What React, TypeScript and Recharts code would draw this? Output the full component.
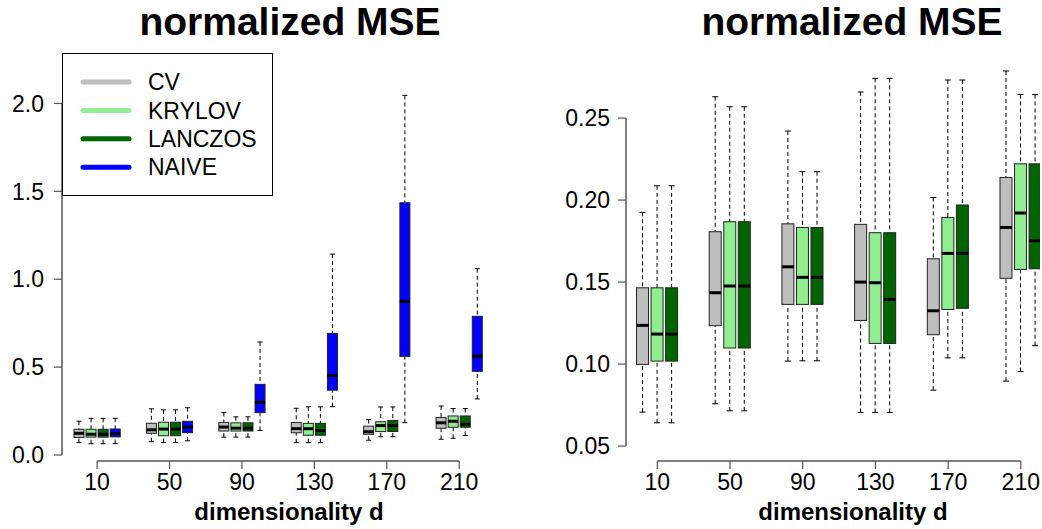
import React from 'react';
import { ComposedChart, Bar, XAxis, YAxis, ReferenceLine } from 'recharts';

const dims = ['10', '50', '90', '130', '170', '210'];

// [min, q1, median, q3, max] per dimensionality
const cvStats = [
  [0.0707, 0.0998, 0.1236, 0.1465, 0.1925],
  [0.0758, 0.1234, 0.1435, 0.1807, 0.263],
  [0.1018, 0.1364, 0.1593, 0.1855, 0.2421],
  [0.0705, 0.1266, 0.15, 0.1852, 0.2659],
  [0.0841, 0.1179, 0.1325, 0.1642, 0.2016],
  [0.0896, 0.1523, 0.1833, 0.2138, 0.2787],
];
const krylovStats = [
  [0.0642, 0.1018, 0.1183, 0.1465, 0.2087],
  [0.0715, 0.1098, 0.1476, 0.1868, 0.2569],
  [0.102, 0.1364, 0.1529, 0.1833, 0.2173],
  [0.0705, 0.1126, 0.1496, 0.1801, 0.2742],
  [0.1038, 0.1333, 0.1675, 0.1894, 0.2732],
  [0.0955, 0.1577, 0.1921, 0.2221, 0.2644],
];
const lanczosStats = [
  [0.0642, 0.1018, 0.1183, 0.1465, 0.2087],
  [0.0715, 0.1098, 0.1476, 0.1868, 0.2569],
  [0.102, 0.1364, 0.1529, 0.1833, 0.2173],
  [0.0705, 0.1126, 0.1394, 0.1801, 0.2742],
  [0.1038, 0.134, 0.1675, 0.197, 0.2732],
  [0.1112, 0.1581, 0.1752, 0.2221, 0.2644],
];
const naiveStats = [
  [0.065, 0.103, 0.121, 0.148, 0.209],
  [0.081, 0.127, 0.159, 0.192, 0.269],
  [0.14, 0.241, 0.3, 0.402, 0.643],
  [0.275, 0.369, 0.452, 0.692, 1.143],
  [0.184, 0.561, 0.874, 1.435, 2.046],
  [0.319, 0.476, 0.563, 0.789, 1.06],
];

const leftTicks = [0, 0.5, 1.0, 1.5, 2.0];
const rightTicks = [0.05, 0.1, 0.15, 0.2, 0.25];

const series = [
  { name: 'CV', color: '#BEBEBE', stats: cvStats },
  { name: 'KRYLOV', color: '#90EE90', stats: krylovStats },
  { name: 'LANCZOS', color: '#006400', stats: lanczosStats },
  { name: 'NAIVE', color: '#0000FF', stats: naiveStats },
];

const FONT = '"Liberation Sans", Arial, Helvetica, sans-serif';

// one row per box, slot position along the x axis
const buildRows = (list: typeof series, groupSlots: number) => {
  const rows: any[] = [];
  dims.forEach((_, g) => {
    list.forEach((s, i) => {
      const st = s.stats[g];
      rows.push({ pos: g * groupSlots + i, range: [st[0], st[4]], stats: st, color: s.color });
    });
  });
  return rows;
};

const leftRows = buildRows(series, 6);
const rightRows = buildRows(series.slice(0, 3), 5);

const BoxShape = (props: any) => {
  const { x, y, width, height, payload } = props;
  if (x == null || y == null) return null;
  const top = Math.min(y, y + height);
  const bottom = Math.max(y, y + height);
  const [lo, q1, med, q3, hi] = payload.stats;
  const toPx = (v: number) => bottom - ((v - lo) / (hi - lo)) * (bottom - top);
  const cx = x + width / 2;
  const staple = width / 4;
  return (
    <g>
      <line x1={cx} x2={cx} y1={toPx(hi)} y2={toPx(q3)} stroke="#000" strokeDasharray="4 3" />
      <line x1={cx} x2={cx} y1={toPx(lo)} y2={toPx(q1)} stroke="#000" strokeDasharray="4 3" />
      <line x1={cx - staple} x2={cx + staple} y1={toPx(hi)} y2={toPx(hi)} stroke="#000" />
      <line x1={cx - staple} x2={cx + staple} y1={toPx(lo)} y2={toPx(lo)} stroke="#000" />
      <rect x={cx - width / 2} y={toPx(q3)} width={width} height={toPx(q1) - toPx(q3)} fill={payload.color} stroke="#222" strokeWidth={1} />
      <line x1={cx - width / 2} x2={cx + width / 2} y1={toPx(med)} y2={toPx(med)} stroke="#000" strokeWidth={3} />
    </g>
  );
};

interface PanelProps {
  rows: any[];
  groupSlots: number;
  tickSlot: number;
  xDomain: [number, number];
  yDomain: [number, number];
  yTicks: number[];
  digits: number;
  marginLeft: number;
  marginRight: number;
  yWidth: number;
  tickMargin: number;
  barSize: number;
}

const Panel: React.FC<PanelProps> = (p) => {
  const xTicks = dims.map((_, g) => g * p.groupSlots + p.tickSlot);
  const axisColor = '#555';
  return (
    <ComposedChart
      width={521}
      height={529}
      data={p.rows}
      margin={{ top: 50, right: p.marginRight, left: p.marginLeft, bottom: 0 }}
    >
      <XAxis
        type="number"
        dataKey="pos"
        domain={p.xDomain}
        ticks={xTicks}
        interval={0}
        allowDataOverflow
        axisLine={false}
        tickLine={{ stroke: axisColor, strokeWidth: 1.2 }}
        tickSize={8}
        tickMargin={5}
        height={68}
        tick={{ fill: '#000', fontSize: 23, fontFamily: FONT }}
        tickFormatter={(v: number) => dims[Math.round((v - p.tickSlot) / p.groupSlots)]}
      />
      <YAxis
        type="number"
        domain={p.yDomain}
        ticks={p.yTicks}
        interval={0}
        allowDataOverflow
        axisLine={false}
        tickLine={{ stroke: axisColor, strokeWidth: 1.2 }}
        tickSize={8}
        tickMargin={p.tickMargin}
        width={p.yWidth}
        tick={{ fill: '#000', fontSize: 23, fontFamily: FONT }}
        tickFormatter={(v: number) => v.toFixed(p.digits)}
      />
      <ReferenceLine
        segment={[{ x: xTicks[0], y: p.yDomain[0] }, { x: xTicks[xTicks.length - 1], y: p.yDomain[0] }]}
        stroke={axisColor}
        strokeWidth={1.5}
        ifOverflow="visible"
      />
      <ReferenceLine
        segment={[{ x: p.xDomain[0], y: p.yTicks[0] }, { x: p.xDomain[0], y: p.yTicks[p.yTicks.length - 1] }]}
        stroke={axisColor}
        strokeWidth={1.5}
        ifOverflow="visible"
      />
      <Bar dataKey="range" barSize={p.barSize} shape={(sp: any) => <BoxShape {...sp} />} isAnimationActive={false} />
    </ComposedChart>
  );
};

const Legend = () => (
  <svg width={212} height={144} style={{ position: 'absolute', left: 62, top: 53 }}>
    <rect x={0.5} y={0.5} width={210} height={142} fill="#fff" stroke="#000" strokeWidth={1} />
    {series.map((s, i) => (
      <g key={s.name}>
        <line x1={21} x2={67} y1={29 + i * 28.4} y2={29 + i * 28.4} stroke={s.color} strokeWidth={5} strokeLinecap="round" />
        <text x={86} y={29 + i * 28.4} dy="0.36em" fontSize={23} fontFamily={FONT} fill="#000">{s.name}</text>
      </g>
    ))}
  </svg>
);

export default function App() {
  return (
    <div style={{ position: 'absolute', left: 0, top: 0, width: 1042, height: 529, background: '#fff', overflow: 'hidden' }}>
      <div style={{ position: 'absolute', left: 0, top: 0 }}>
        <Panel
          rows={leftRows}
          groupSlots={6}
          tickSlot={1.5}
          xDomain={[-1.41, 36.37]}
          yDomain={[-0.034, 2.304]}
          yTicks={leftTicks}
          digits={1}
          marginLeft={0}
          marginRight={3}
          yWidth={62}
          tickMargin={10}
          barSize={10}
        />
      </div>
      <div style={{ position: 'absolute', left: 521, top: 0 }}>
        <Panel
          rows={rightRows}
          groupSlots={5}
          tickSlot={1}
          xDomain={[-1.155, 27.32]}
          yDomain={[0.0409, 0.2915]}
          yTicks={rightTicks}
          digits={2}
          marginLeft={45}
          marginRight={2}
          yWidth={60}
          tickMargin={8}
          barSize={12}
        />
      </div>
      <Legend />
      <svg width={1042} height={529} style={{ position: 'absolute', left: 0, top: 0, pointerEvents: 'none' }}>
        <text x={290} y={35} textAnchor="middle" fontSize={39} fontWeight="bold" fontFamily={FONT}>normalized MSE</text>
        <text x={852} y={35} textAnchor="middle" fontSize={39} fontWeight="bold" fontFamily={FONT}>normalized MSE</text>
        <text x={289} y={520} textAnchor="middle" fontSize={24} fontWeight="bold" fontFamily={FONT}>dimensionality d</text>
        <text x={853} y={520} textAnchor="middle" fontSize={24} fontWeight="bold" fontFamily={FONT}>dimensionality d</text>
      </svg>
    </div>
  );
}
